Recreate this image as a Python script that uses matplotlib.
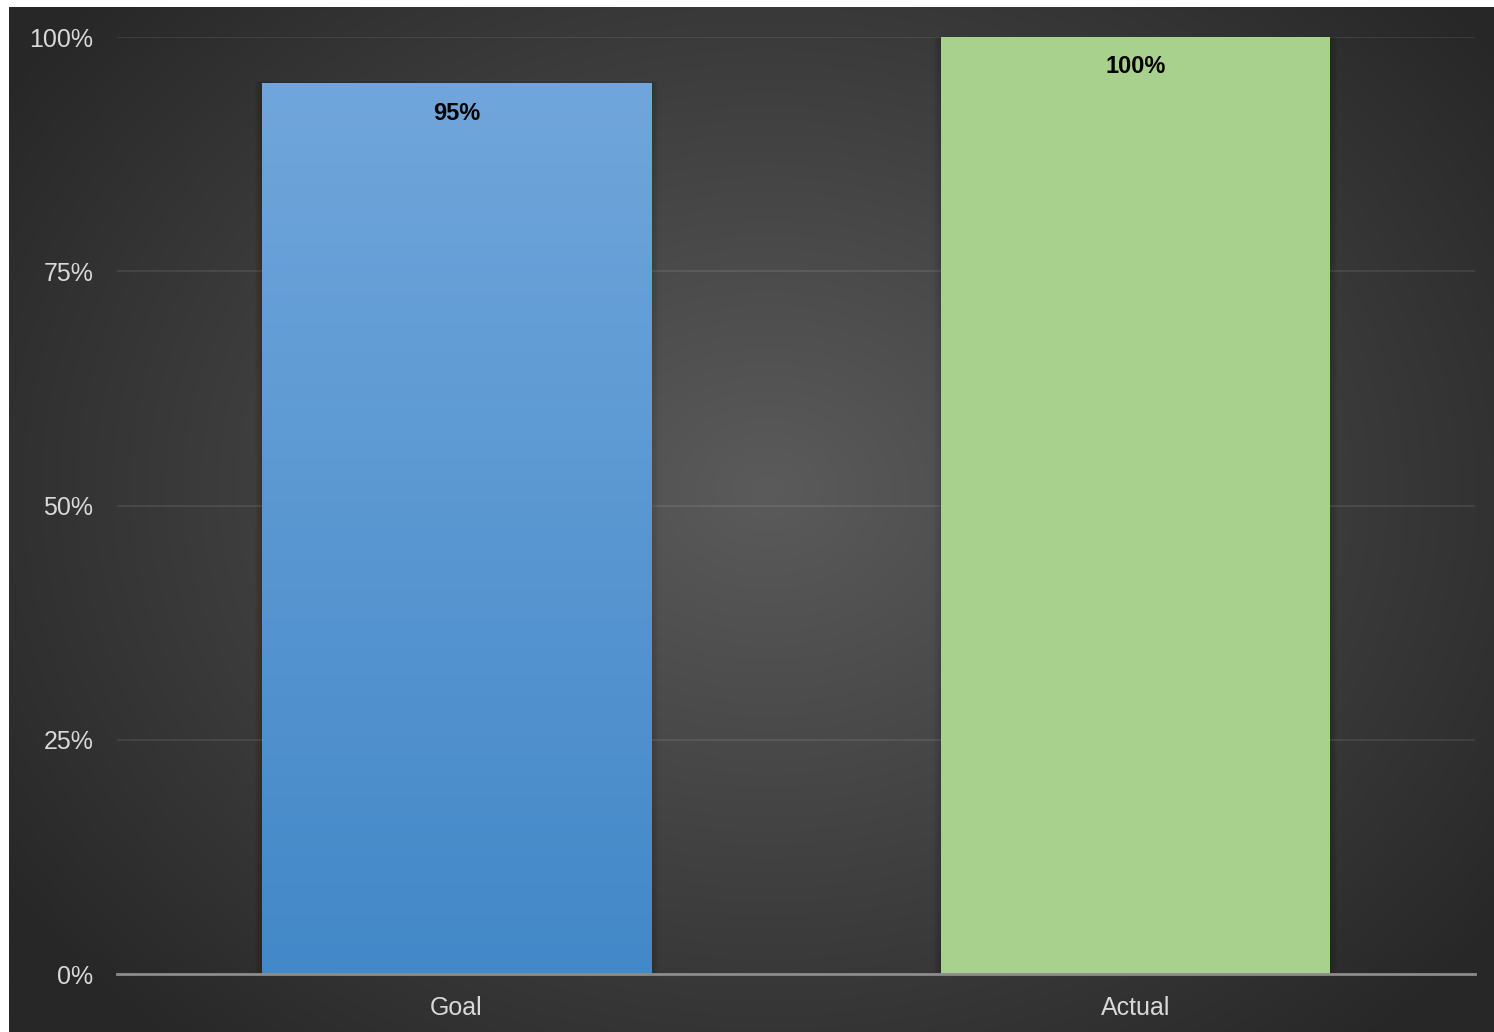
import numpy as np
import matplotlib.pyplot as plt
from matplotlib.patches import Rectangle

# chart data
categories = ['Goal', 'Actual']
values = [95, 100]
bar_colors = ['#5898d6', '#a9d18e']
tick_vals = [0, 25, 50, 75, 100]
tick_labels = ['0%', '25%', '50%', '75%', '100%']

plt.rcParams['font.family'] = ['Liberation Sans', 'DejaVu Sans']

fig = plt.figure(figsize=(14.94, 10.32), dpi=100)
fig.patch.set_facecolor('white')

# dark radial background
bg = fig.add_axes([9 / 1494, 0, 1 - 9 / 1494, 1 - 7 / 1032])
bg.set_axis_off()
h, w = 400, 580
yy, xx = np.mgrid[0:h, 0:w]
cx, cy = w * 0.51, h * 0.47
r = np.sqrt(((xx - cx) / (w * 0.62)) ** 2 + ((yy - cy) / (h * 0.72)) ** 2)
r = np.clip(r, 0, 1)
inner = np.array([0x5b, 0x5b, 0x5b]) / 255
outer = np.array([0x27, 0x27, 0x27]) / 255
img = inner[None, None, :] * (1 - r[..., None]) + outer[None, None, :] * r[..., None]
bg.imshow(img, aspect='auto', extent=[0, 1, 0, 1], origin='upper')
bg.set_xlim(0, 1)
bg.set_ylim(0, 1)

ax = fig.add_axes([117 / 1494, 1 - 974 / 1032, (1475 - 117) / 1494, (974 - 37) / 1032])
ax.patch.set_alpha(0)

x = np.arange(len(categories))
bars = ax.bar(x, values, width=0.573, color=bar_colors, zorder=3)

ax.set_xlim(-0.5, len(categories) - 0.5)
ax.set_ylim(0, 100)

# gradient on the Goal bar, soft shadow on both
grad = np.linspace(0, 1, 256)[:, None]
top_c = np.array([0x70, 0xa6, 0xdb]) / 255
bot_c = np.array([0x43, 0x88, 0xc8]) / 255
gimg = top_c[None, None, :] * (1 - grad[..., None]) + bot_c[None, None, :] * grad[..., None]
for i, b in enumerate(bars):
    bx, bw, bh = b.get_x(), b.get_width(), b.get_height()
    for k in range(1, 7):
        pad = 0.0018 * k
        ax.add_patch(Rectangle((bx - pad, 0), bw + 2 * pad, bh + pad * 30,
                               facecolor='black', alpha=0.025, lw=0, zorder=2))
    if i == 0:
        b.set_facecolor('none')
        ax.imshow(np.repeat(gimg, 4, axis=1), extent=[bx, bx + bw, 0, bh],
                  aspect='auto', origin='upper', zorder=3)
    ax.annotate(f'{values[i]}%', (b.get_x() + bw / 2, bh), xytext=(0, -21),
                textcoords='offset points', ha='center', va='center',
                fontsize=17, fontweight='bold', color='black', zorder=5)

ax.set_yticks(tick_vals)
ax.set_yticklabels(tick_labels)
ax.set_xticks(x)
ax.set_xticklabels(categories)
ax.tick_params(axis='both', length=0, colors='#d9d9d9', labelsize=18)
ax.tick_params(axis='y', pad=17)
ax.tick_params(axis='x', pad=16)
ax.grid(axis='y', color='white', alpha=0.1, lw=1.2, zorder=1)
for s in ['top', 'right', 'left']:
    ax.spines[s].set_visible(False)
ax.spines['bottom'].set_color('#8c8c8c')
ax.spines['bottom'].set_linewidth(2)
ax.spines['bottom'].set_zorder(4)

fig.savefig('out.png', dpi=100)
